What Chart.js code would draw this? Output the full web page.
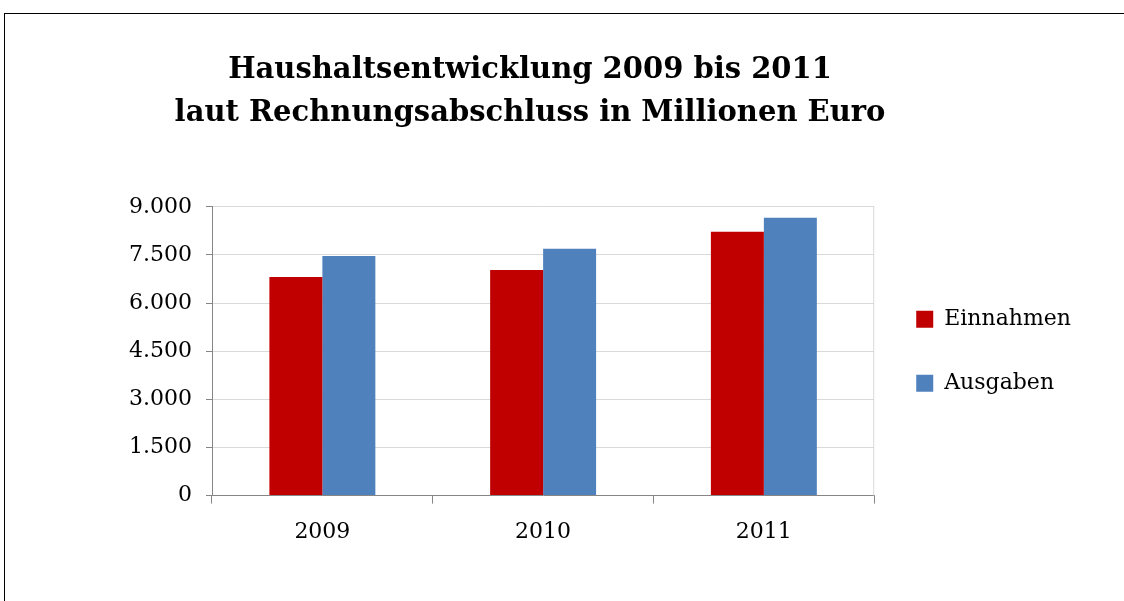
<!DOCTYPE html>
<html>
<head>
<meta charset="utf-8">
<script src="https://cdn.jsdelivr.net/npm/chart.js@4"></script>
<style>
  html, body { margin: 0; padding: 0; background: #fff; overflow: hidden; }
  .frame { position: absolute; left: 4px; top: 13px; width: 1200px; height: 700px;
           border-top: 1px solid #000; border-left: 1px solid #000; }
  .wrap { position: absolute; left: -21px; top: 0; width: 1102px; height: 601px; }
</style>
</head>
<body>
<div class="frame"></div>
<div class="wrap"><canvas id="budget-chart"></canvas></div>
<script>
const years = ['2009', '2010', '2011']
const einnahmen = [6810, 7030, 8220]
const ausgaben = [7470, 7690, 8660]
const yTicks = [0, 1500, 3000, 4500, 6000, 7500, 9000]

const labelFont = { family: 'DejaVu Serif', size: 22 }

// light line on the right edge of the plot area
const plotFrame = {
  id: 'plotFrame',
  beforeDatasetsDraw(chart) {
    const { ctx, chartArea } = chart
    ctx.save()
    ctx.strokeStyle = '#d9d9d9'
    ctx.lineWidth = 1
    ctx.beginPath()
    ctx.moveTo(chartArea.right - 0.5, chartArea.top)
    ctx.lineTo(chartArea.right - 0.5, chartArea.bottom)
    ctx.stroke()
    ctx.restore()
  },
}

const config = {
  type: 'bar',
  data: {
    labels: years,
    datasets: [
      { label: 'Einnahmen', data: einnahmen, backgroundColor: '#c00000' },
      { label: 'Ausgaben', data: ausgaben, backgroundColor: '#4f81bd' },
    ],
  },
  options: {
    responsive: true,
    maintainAspectRatio: false,
    animation: false,
    locale: 'de-DE',
    layout: { padding: { left: 0, right: 0, top: 0, bottom: 41 } },
    datasets: { bar: { categoryPercentage: 0.48, barPercentage: 1.0 } },
    plugins: {
      title: {
        display: true,
        text: ['Haushaltsentwicklung 2009 bis 2011', 'laut Rechnungsabschluss in Millionen Euro'],
        color: '#000',
        font: { family: 'DejaVu Serif', size: 29, weight: 'bold', lineHeight: 1.48 },
        padding: { top: 49, bottom: 72 },
      },
      legend: {
        position: 'right',
        fullSize: false,
        labels: {
          boxWidth: 17,
          boxHeight: 17,
          padding: 42,
          color: '#000',
          font: labelFont,
        },
      },
      tooltip: { enabled: false },
    },
    scales: {
      x: {
        grid: { offset: true, drawOnChartArea: false, drawTicks: true, tickLength: 8, color: '#868686' },
        border: { color: '#868686' },
        ticks: { color: '#000', font: labelFont, padding: 15 },
      },
      y: {
        min: 0,
        max: 9000,
        afterBuildTicks(scale) { scale.ticks = yTicks.map(v => ({ value: v })) },
        afterFit(scale) { scale.width = 233 },
        grid: { color: '#d9d9d9', tickColor: '#868686', tickLength: 6 },
        border: { color: '#868686' },
        ticks: { color: '#000', font: labelFont, padding: 14 },
      },
    },
  },
  plugins: [plotFrame],
}

const ctx = document.getElementById('budget-chart')
window.budgetChart = new Chart(ctx, config)
</script>
</body>
</html>
